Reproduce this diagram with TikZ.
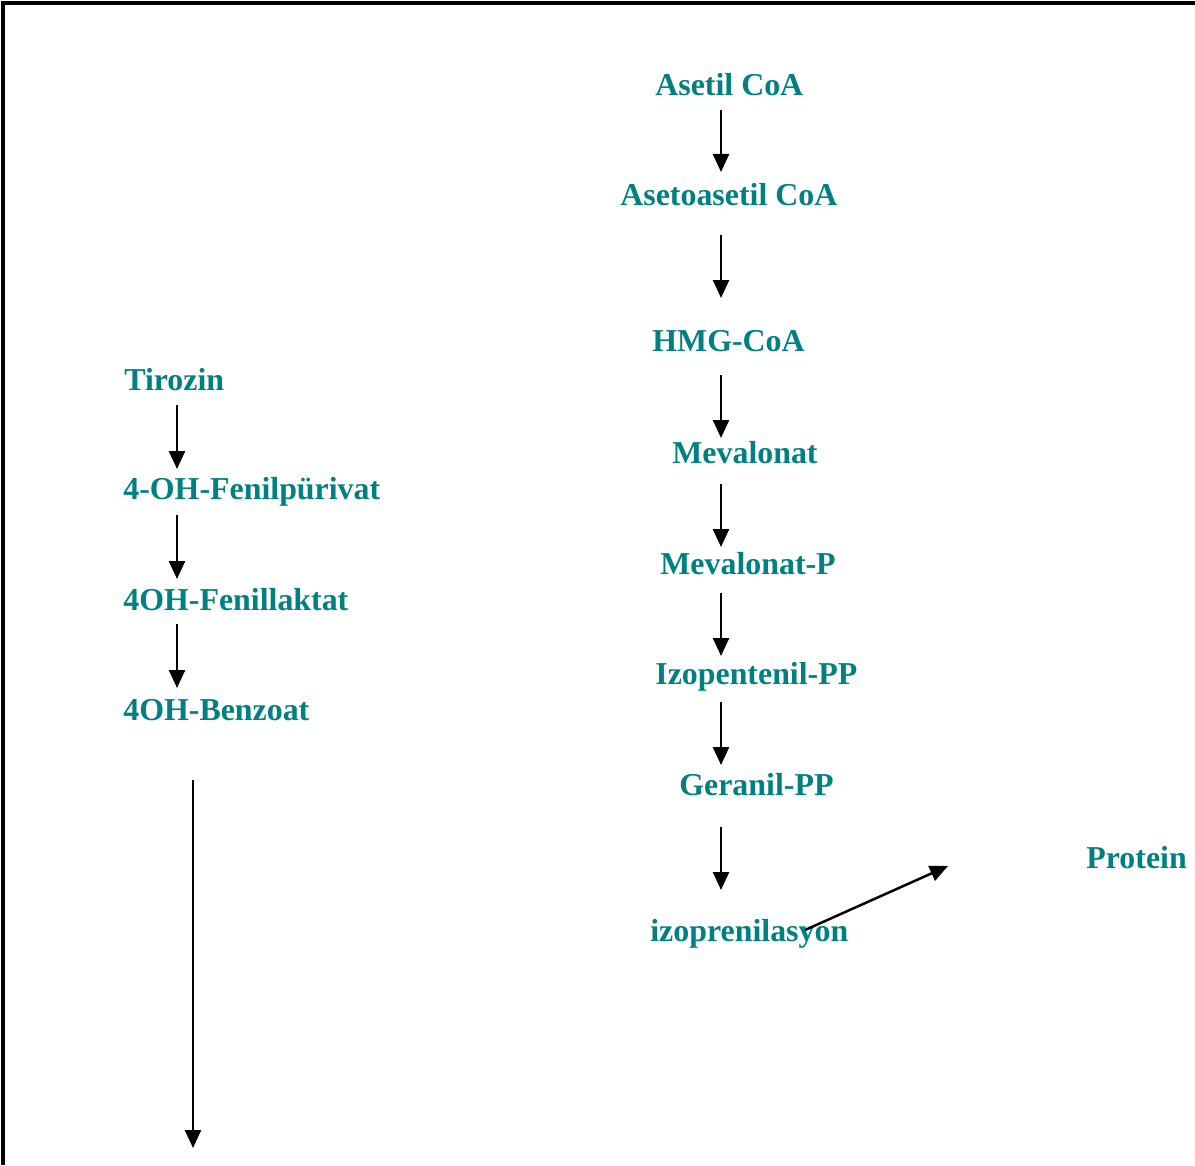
\documentclass[tikz,border=0pt]{standalone}
\usepackage{fontspec}
\setmainfont{Liberation Serif}
\usepackage{tikz}
\usetikzlibrary{arrows.meta,calc}
\definecolor{pathteal}{RGB}{0,128,128}

\begin{document}
\begin{tikzpicture}[x=0.02cm, y=-0.02cm, font=\fontsize{18.15}{22}\selectfont\bfseries]
\tikzstyle{met}=[text=pathteal, inner sep=0pt, anchor=base west]
\tikzstyle{arr}=[line width=0.05cm, -{Triangle[length=0.36cm, width=0.32cm]}]
\useasboundingbox (0,0) rectangle (1195,1165);
\draw[line width=0.07cm] (3,1165) -- (3,3) -- (1195,3);
% mevalonat yolu
\node[met] (asetil) at (655,96) {Asetil CoA};
\node[met] (aseto) at (620,206) {Asetoasetil CoA};
\node[met] (hmg) at (652,352) {HMG-CoA};
\node[met] (mev) at (672,463) {Mevalonat};
\node[met] (mevp) at (660,574) {Mevalonat-P};
\node[met] (izop) at (655,684) {Izopentenil-PP};
\node[met] (ger) at (679,795) {Geranil-PP};
\node[met] (izopren) at (650,941) {izoprenilasyon};
\node[met] (prot) at (1086,868) {Protein};
% tirozin yolu
\node[met] (tir) at (124,390) {Tirozin};
\node[met] (fpir) at (123,499) {4-OH-Fenilpürivat};
\node[met] (flak) at (123,610) {4OH-Fenillaktat};
\node[met] (benz) at (123,720) {4OH-Benzoat};
\coordinate (spine) at (721,0);
\coordinate (lspine) at (177,0);
\coordinate (toprot) at (948,866);
\draw[arr] ($(asetil.base -| spine)+(0,14)$) -- ++(0,62);
\draw[arr] ($(aseto.base -| spine)+(0,29)$) -- ++(0,63);
\draw[arr] ($(hmg.base -| spine)+(0,23)$) -- ++(0,63);
\draw[arr] ($(mev.base -| spine)+(0,21)$) -- ++(0,63);
\draw[arr] ($(mevp.base -| spine)+(0,19)$) -- ++(0,63);
\draw[arr] ($(izop.base -| spine)+(0,18)$) -- ++(0,63);
\draw[arr] ($(ger.base -| spine)+(0,32)$) -- ++(0,63);
\draw[arr] ($(izopren.base west)+(155,-11)$) -- (toprot);
\draw[arr] ($(tir.base -| lspine)+(0,15)$) -- ++(0,64);
\draw[arr] ($(fpir.base -| lspine)+(0,16)$) -- ++(0,64);
\draw[arr] ($(flak.base -| lspine)+(0,14)$) -- ++(0,64);
\draw[arr] ($(benz.base -| lspine)+(16,60)$) -- ++(0,368);
\end{tikzpicture}
\end{document}
